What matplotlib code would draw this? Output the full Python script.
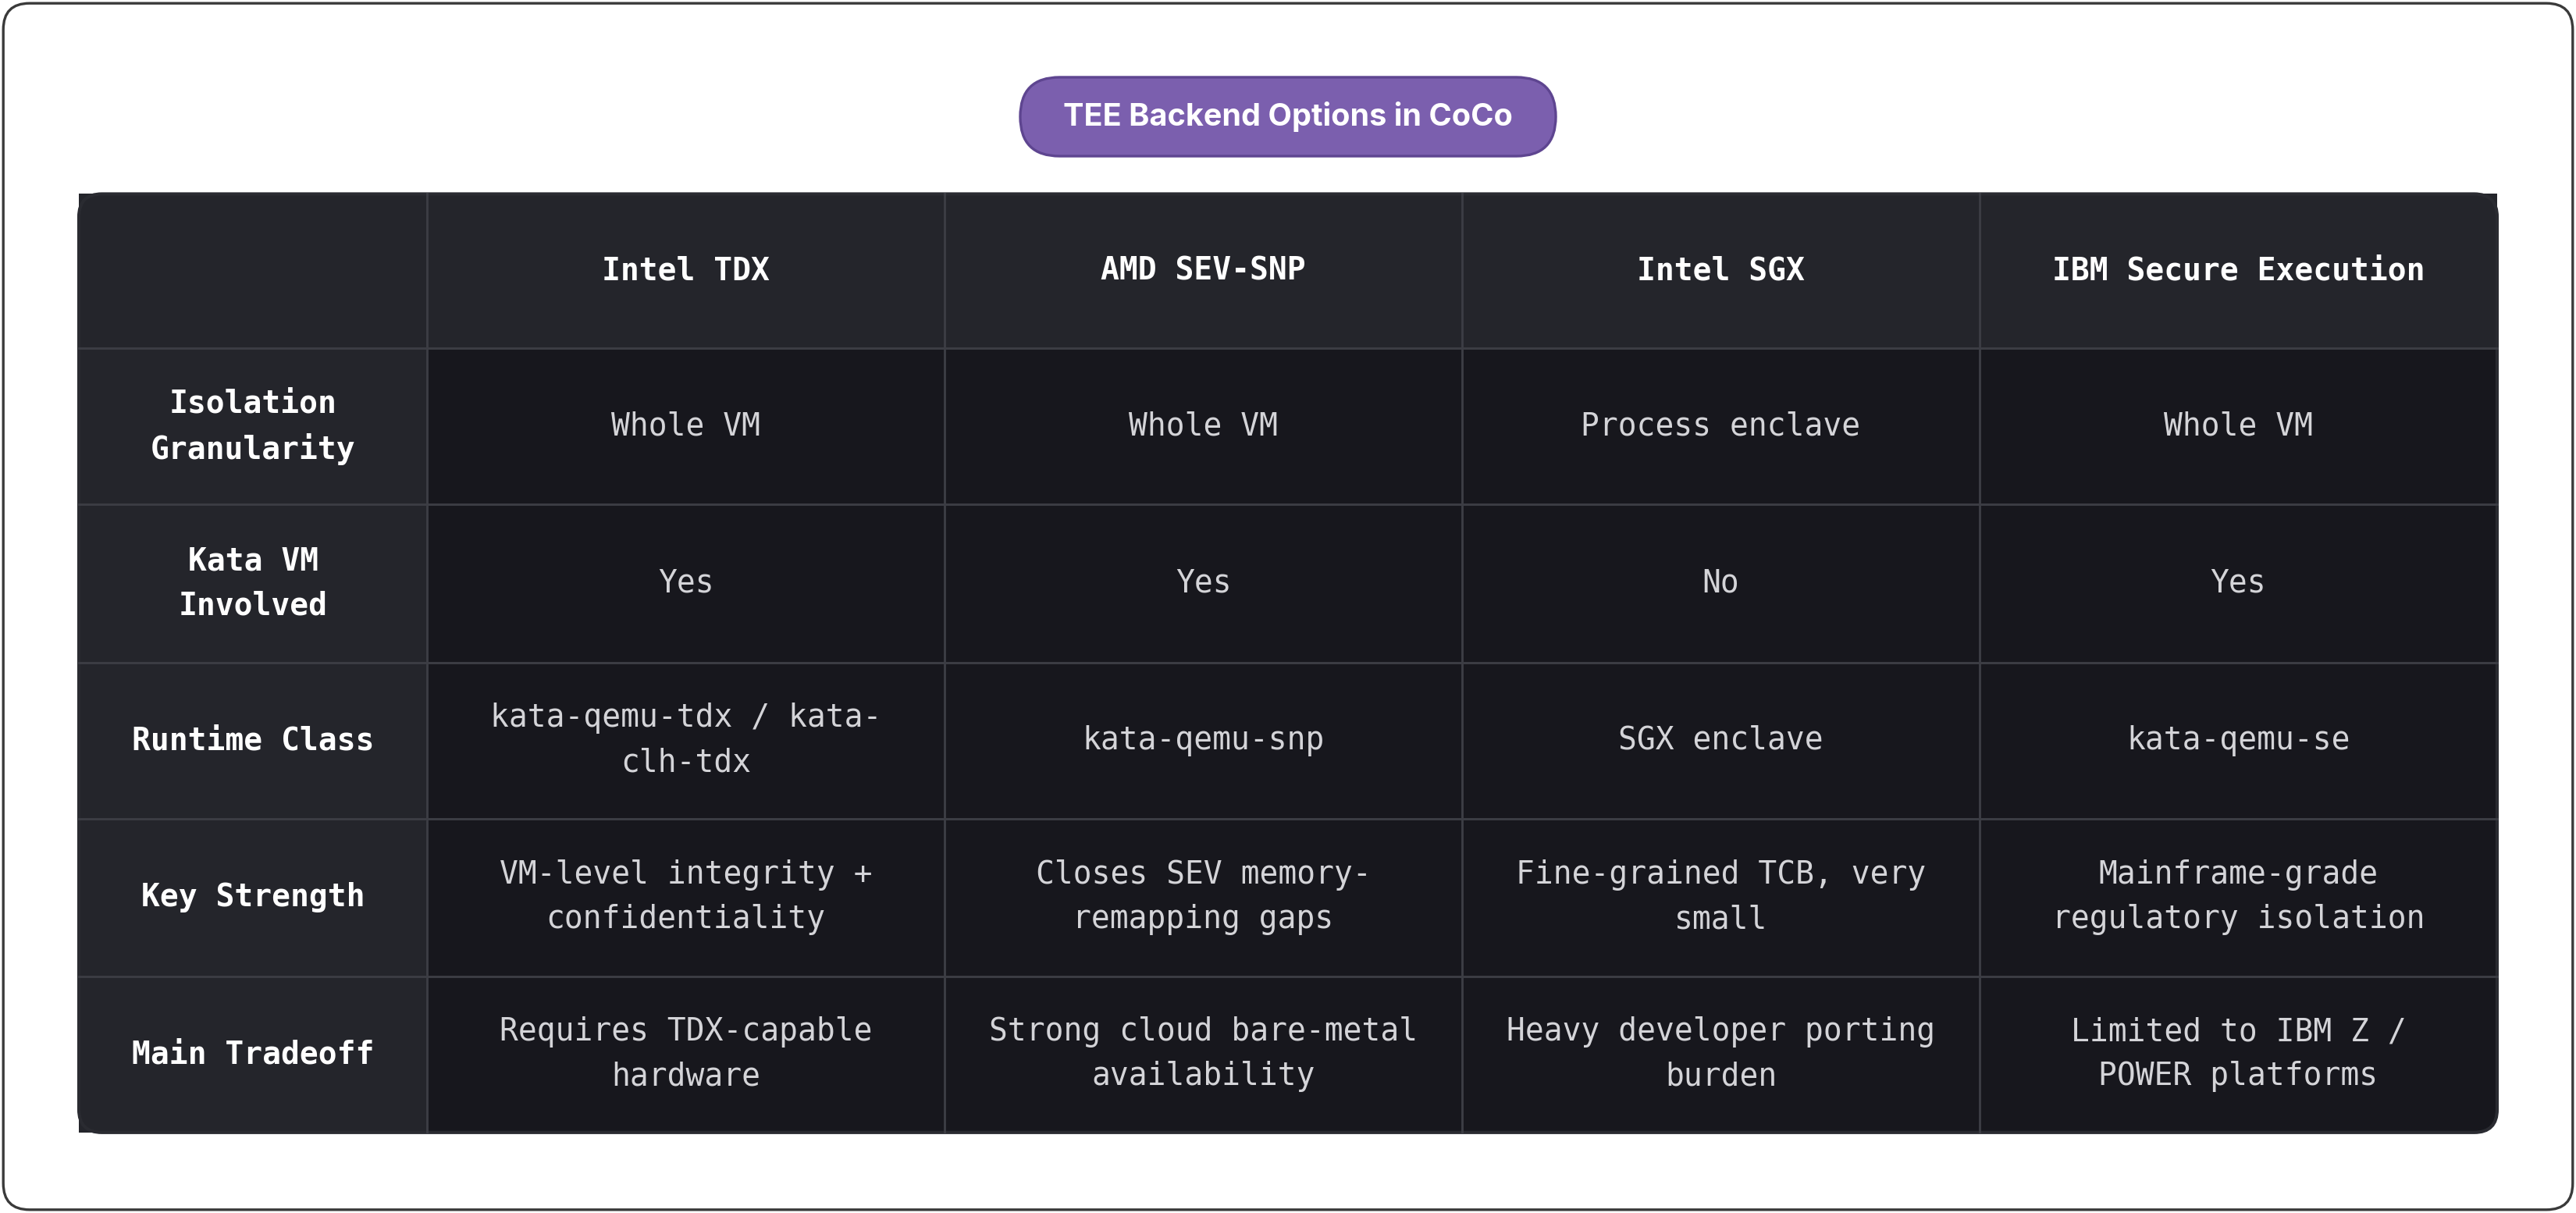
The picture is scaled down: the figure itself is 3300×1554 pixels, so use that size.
import matplotlib.pyplot as plt
from matplotlib.patches import FancyBboxPatch, Rectangle

title = "TEE Backend Options in CoCo"
columns = ["Intel TDX", "AMD SEV-SNP", "Intel SGX", "IBM Secure Execution"]
row_labels = ["Isolation\nGranularity", "Kata VM\nInvolved", "Runtime Class",
              "Key Strength", "Main Tradeoff"]
cells = [
    ["Whole VM", "Whole VM", "Process enclave", "Whole VM"],
    ["Yes", "Yes", "No", "Yes"],
    ["kata-qemu-tdx / kata-\nclh-tdx", "kata-qemu-snp", "SGX enclave", "kata-qemu-se"],
    ["VM-level integrity +\nconfidentiality", "Closes SEV memory-\nremapping gaps",
     "Fine-grained TCB, very\nsmall", "Mainframe-grade\nregulatory isolation"],
    ["Requires TDX-capable\nhardware", "Strong cloud bare-metal\navailability",
     "Heavy developer porting\nburden", "Limited to IBM Z /\nPOWER platforms"],
]

W, H = 1568, 738
fig = plt.figure(figsize=(11, 11 * 1554 / 3300), dpi=300)
ax = fig.add_axes([0, 0, 1, 1])
ax.set_xlim(0, W)
ax.set_ylim(H, 0)
ax.axis("off")

ax.add_patch(FancyBboxPatch((2, 2), W - 4, H - 4, boxstyle="round,pad=0,rounding_size=16",
                            fc="white", ec="#3a3a3a", lw=0.8))

# title pill
ax.add_patch(FancyBboxPatch((621, 47), 326, 48, boxstyle="round,pad=0,rounding_size=24",
                            fc="#7b5fae", ec="#5e4590", lw=0.8))
ax.text(784, 71, title, ha="center", va="center", color="white", fontsize=9.5,
        fontweight="bold", family="Inter")

col_x = [48, 260, 575, 890, 1205, 1520]
row_y = [118, 212, 307, 403, 498, 594, 689]
head_bg = "#24252b"
body_bg = "#17171d"
line_c = "#3c3d44"
mono = "DejaVu Sans Mono"

ax.add_patch(FancyBboxPatch((48, 118), 1472, 571, boxstyle="round,pad=0,rounding_size=14",
                            fc=body_bg, ec="none"))
ax.add_patch(Rectangle((48, 118), 1472, 94, fc=head_bg, ec="none"))
ax.add_patch(Rectangle((48, 118), 212, 571, fc=head_bg, ec="none"))
# re-round corners by overlaying outline
for x in col_x[1:-1]:
    ax.plot([x, x], [118, 689], color=line_c, lw=0.7)
for y in row_y[1:-1]:
    ax.plot([48, 1520], [y, y], color=line_c, lw=0.7)
ax.add_patch(FancyBboxPatch((48, 118), 1472, 571, boxstyle="round,pad=0,rounding_size=14",
                            fc="none", ec="#2a2b31", lw=1.0))

for j, c in enumerate(columns):
    ax.text((col_x[j + 1] + col_x[j + 2]) / 2, (row_y[0] + row_y[1]) / 2, c,
            ha="center", va="center", color="white", fontsize=9.5,
            fontweight="bold", family=mono)
for i, r in enumerate(row_labels):
    cy = (row_y[i + 1] + row_y[i + 2]) / 2
    ax.text((col_x[0] + col_x[1]) / 2, cy, r, ha="center", va="center",
            color="white", fontsize=9.5, fontweight="bold", family=mono,
            linespacing=1.55, multialignment="center")
    for j, v in enumerate(cells[i]):
        ax.text((col_x[j + 1] + col_x[j + 2]) / 2, cy, v, ha="center", va="center",
                color="#d4d4d8", fontsize=9.5, family=mono, linespacing=1.55,
                multialignment="center")

fig.savefig("out.png", dpi=300)
